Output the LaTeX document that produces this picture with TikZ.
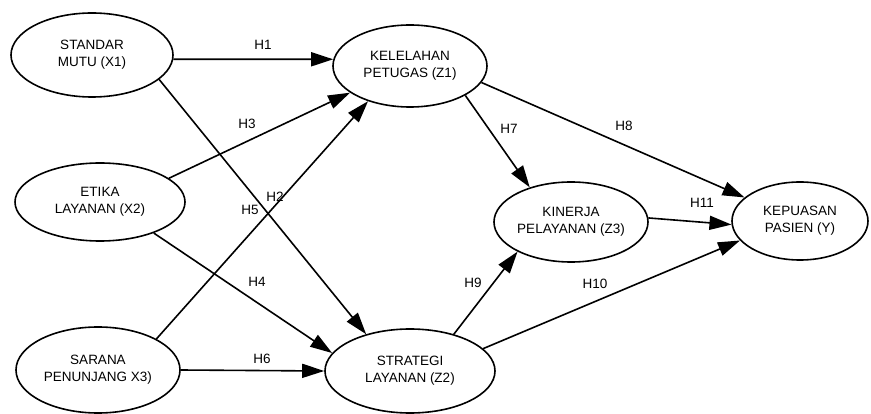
\documentclass[tikz,border=0pt]{standalone}
\usepackage{fontspec}
\setmainfont{Liberation Sans}
\usetikzlibrary{shapes.geometric,arrows.meta}
\begin{document}
\begin{tikzpicture}[x=1pt,y=-1pt,
  var/.style={ellipse,draw,line width=1.6pt,inner sep=0pt,align=center,
    font=\fontsize{13.5}{17}\selectfont},
  lbl/.style={inner sep=0pt,font=\fontsize{13.5}{16}\selectfont},
  path/.style={line width=1.6pt,-{Triangle[length=22pt,width=14pt]}}]
\useasboundingbox (0,0) rectangle (871,414);
\node[var,minimum width=162pt,minimum height=84pt] (X1) at (92,55) {STANDAR\\MUTU (X1)};
\node[var,minimum width=170pt,minimum height=78pt] (X2) at (100,202) {ETIKA\\LAYANAN (X2)};
\node[var,minimum width=164pt,minimum height=86pt] (X3) at (98,370) {SARANA\\PENUNJANG X3)};
\node[var,minimum width=154pt,minimum height=82pt] (Z1) at (410,66) {KELELAHAN\\PETUGAS (Z1)};
\node[var,minimum width=170pt,minimum height=84pt] (Z2) at (410,371) {STRATEGI\\LAYANAN (Z2)};
\node[var,minimum width=154pt,minimum height=80pt] (Z3) at (571,222) {KINERJA\\PELAYANAN (Z3)};
\node[var,minimum width=136pt,minimum height=78pt] (Y) at (800,221) {KEPUASAN\\PASIEN (Y)};

\draw[path] (X1.-3.5) -- (Z1.175.5);
\draw[path] (X1.-20.2) -- (Z2.140.6);
\draw[path] (X2.19.4) -- (Z1.204.2);
\draw[path] (X2.-30.1) -- (Z2.167);
\draw[path] (X3.28) -- (Z1.220.6);
\draw[path] (X3.0) -- (Z2.180.5);
\draw[path] (Z1.-28.6) -- (Z3.140);
\draw[path] (Z1.-13.1) -- (Y.157.5);
\draw[path] (Z2.40.8) -- (Z3.209.5);
\draw[path] (Z2.17) -- (Y.198.7);
\draw[path] (Z3.3.7) -- (Y.183);

\node[lbl] (h1) at (263,45) {H1};
\node[lbl] (h2) at (275,197) {H2};
\node[lbl] (h3) at (247,124) {H3};
\node[lbl] (h4) at (257,282) {H4};
\node[lbl] (h5) at (250,210) {H5};
\node[lbl] (h6) at (262,359) {H6};
\node[lbl] (h7) at (509,129) {H7};
\node[lbl] (h8) at (624,126) {H8};
\node[lbl] (h9) at (473,283) {H9};
\node[lbl] (h10) at (595,284) {H10};
\node[lbl] (h11) at (702,203) {H11};
\end{tikzpicture}
\end{document}
